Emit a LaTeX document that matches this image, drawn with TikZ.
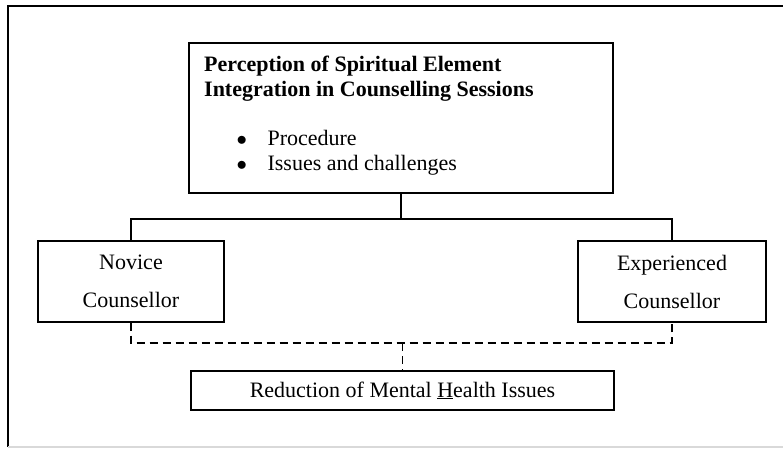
\documentclass[tikz,border=0pt]{standalone}
\usepackage{fontspec}
\setmainfont{Liberation Serif}
\usetikzlibrary{positioning}

\tikzset{
  box/.style={draw, line width=1.4pt, inner sep=0pt},
  link/.style={line width=1.4pt},
  dashlink/.style={line width=1.4pt, dash pattern=on 8pt off 5pt}
}

\begin{document}
\begin{tikzpicture}[x=1pt, y=-1pt]
% Set the page size (pixels as points)
\useasboundingbox (0,0) rectangle (783,449);
\def\boxfont{\fontsize{22}{38}\selectfont}
\def\linefont{\fontsize{22}{25}\selectfont}

% Frame round the figure
\draw[line width=1.2pt] (783,6) -- (8,6) -- (8,447);
\draw[line width=1.2pt, black!15] (8,447) -- (783,447);

% Draw the boxes and insert the text (base anchor sits on the last line)
\node[box, minimum width=424, minimum height=150] (percep) at (401,118) {};
\node[anchor=base west, inner sep=0pt, align=left, font=\linefont\bfseries] (title) at (204,97)
  {Perception of Spiritual Element\\Integration in Counselling Sessions};
\node[anchor=base west, inner sep=0pt, align=left, font=\linefont] (items) at (236.5,171)
  {$\bullet$\hspace{20.5pt}Procedure\\$\bullet$\hspace{20.5pt}Issues and challenges};
\node[box, minimum width=186, minimum height=81, align=center, font=\boxfont] (novice) at (131,281.5) {Novice\\Counsellor};
\node[box, minimum width=188, minimum height=81, align=center, font=\boxfont] (expert) at (672,281.5) {Experienced\\Counsellor};
\node[box, minimum width=423, minimum height=39, font=\linefont] (reduce) at (402.5,390.5)
  {Reduction of Mental \underline{H}ealth Issues};

% Draw the connectors
\coordinate (fork) at (401,219);
\coordinate (join) at (402.5,343);
\draw[link] (percep.south) -- (fork);
\draw[link] (novice.north) |- (fork) -| (expert.north);
\draw[dashlink] (novice.south) |- (join) -| (expert.south);
\draw[dashlink] (join) -- (reduce.north);
\end{tikzpicture}
\end{document}
